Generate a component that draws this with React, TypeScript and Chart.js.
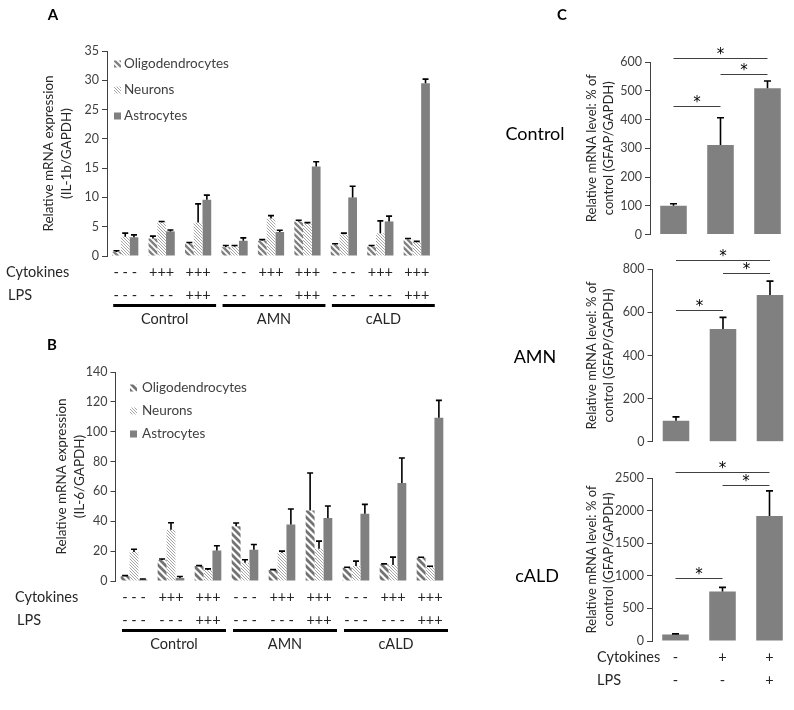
import React, { useEffect, useRef } from "react";
import { Chart, registerables } from "chart.js";

Chart.register(...registerables);

const FONT = "Lato, 'Open Sans', sans-serif";
const STAR_FONT = "'DejaVu Sans', sans-serif";
const INK = "#262626";
const AXIS = "#404040";
const BAR_GRAY = "#808080";

// ---------------- Panels A and B : shared categories ----------------
const seriesNames = ["Oligodendrocytes", "Neurons", "Astrocytes"];
const groupNames = ["Control", "AMN", "cALD"];
const cytokinesRow = ["- - -", "+++", "+++", "- - -", "+++", "+++", "- - -", "+++", "+++"];
const lpsRow = ["- - -", "- - -", "+++", "- - -", "- - -", "+++", "- - -", "- - -", "+++"];

// Panel A : IL-1b
const aTitle = ["Relative mRNA expression", "(IL-1b/GAPDH)"];
const aMax = 35;
const aStep = 5;
const aOligo = [0.7, 3.0, 2.1, 1.5, 2.6, 5.9, 1.9, 1.6, 2.8];
const aOligoErr = [0.2, 0.4, 0.2, 0.3, 0.2, 0.2, 0.2, 0.2, 0.2];
const aNeuron = [3.3, 5.7, 5.7, 1.6, 6.4, 5.5, 3.7, 3.9, 2.4];
const aNeuronErr = [0.6, 0.2, 3.2, 0.2, 0.5, 0.2, 0.2, 2.1, 0.1];
const aAstro = [3.2, 4.2, 9.6, 2.6, 4.1, 15.3, 10.0, 5.9, 29.5];
const aAstroErr = [0.4, 0.25, 0.8, 0.5, 0.3, 0.8, 1.9, 0.9, 0.7];

// Panel B : IL-6
const bTitle = ["Relative mRNA expression", "(IL-6/GAPDH)"];
const bMax = 140;
const bStep = 20;
const bOligo = [3.2, 14.0, 10.0, 36.7, 7.3, 47.3, 8.9, 11.1, 15.6];
const bOligoErr = [0.4, 0.7, 0.3, 2.2, 0.3, 25.0, 0.3, 0.4, 0.3];
const bNeuron = [19.5, 34.4, 7.3, 12.2, 18.9, 21.6, 10.0, 10.7, 9.6];
const bNeuronErr = [1.8, 4.6, 0.8, 2.0, 1.1, 5.1, 3.3, 5.3, 0.3];
const bAstro = [1.0, 2.0, 20.4, 21.0, 37.8, 42.2, 45.1, 65.6, 109.3];
const bAstroErr = [0.3, 1.0, 3.2, 3.4, 10.4, 8.0, 6.2, 16.8, 11.7];

// ---------------- Panel C : GFAP ----------------
const cTitle = ["Relative mRNA level: % of", "control (GFAP/GAPDH)"];
const cCytokines = ["-", "+", "+"];
const cLps = ["-", "-", "+"];
const cRowNames = ["Control", "AMN", "cALD"];

const c1Max = 600;
const c1Step = 100;
const c1Values = [100, 311, 509];
const c1Err = [7, 95, 25];
const c1Brackets = [
  { from: 0, to: 2, at: 614 },
  { from: 1, to: 2, at: 558 },
  { from: 0, to: 1, at: 448 },
];

const c2Max = 800;
const c2Step = 200;
const c2Values = [97, 523, 681];
const c2Err = [18, 54, 64];
const c2Brackets = [
  { from: 0, to: 2, at: 843 },
  { from: 1, to: 2, at: 781 },
  { from: 0, to: 1, at: 611 },
];

const c3Max = 2500;
const c3Step = 500;
const c3Values = [100, 760, 1918];
const c3Err = [10, 62, 385];
const c3Brackets = [
  { from: 0, to: 2, at: 2597 },
  { from: 1, to: 2, at: 2393 },
  { from: 0, to: 1, at: 960 },
];

// ---------------- helpers ----------------
type Frame = { x: number; y: number; w: number; h: number };
type Area = { l: number; t: number; r: number; b: number };

function diagPattern(period: number, width: number, color: string) {
  const c = document.createElement("canvas");
  c.width = period;
  c.height = period;
  const g = c.getContext("2d")!;
  g.fillStyle = "#ffffff";
  g.fillRect(0, 0, period, period);
  g.strokeStyle = color;
  g.lineWidth = width;
  g.beginPath();
  for (const k of [-1, 0, 1]) {
    g.moveTo(-period, -period + k * period);
    g.lineTo(2 * period, 2 * period + k * period);
  }
  g.stroke();
  return g.createPattern(c, "repeat")!;
}

function txt(
  ctx: CanvasRenderingContext2D,
  s: string,
  x: number,
  y: number,
  size: number,
  opts: { weight?: string; align?: CanvasTextAlign; color?: string; family?: string } = {}
) {
  ctx.save();
  ctx.font = `${opts.weight || "normal"} ${size}px ${opts.family || FONT}`;
  ctx.fillStyle = opts.color || INK;
  ctx.textAlign = opts.align || "left";
  ctx.textBaseline = "middle";
  ctx.fillText(s, x, y);
  ctx.restore();
}

const errorBarPlugin = {
  id: "errorBars",
  afterDatasetsDraw(chart: any, _args: any, opts: any) {
    const ctx = chart.ctx as CanvasRenderingContext2D;
    const ys = chart.scales.y;
    chart.data.datasets.forEach((ds: any, i: number) => {
      if (!ds.errors) return;
      const meta = chart.getDatasetMeta(i);
      meta.data.forEach((bar: any, j: number) => {
        const top = ys.getPixelForValue(ds.data[j] + ds.errors[j]);
        ctx.save();
        ctx.strokeStyle = "#000";
        ctx.lineWidth = opts.lineWidth || 1.5;
        ctx.beginPath();
        ctx.moveTo(bar.x, bar.y);
        ctx.lineTo(bar.x, top);
        ctx.moveTo(bar.x - opts.cap, top);
        ctx.lineTo(bar.x + opts.cap, top);
        ctx.stroke();
        ctx.restore();
      });
    });
  },
};

const ROW_LH = 23;
const ROW_PAD = 4.5;
const ROW_SIZE = 14.5;

function yAxis(frame: Frame, area: Area, max: number, step: number, title: string[], titleX: number, titleSize: number, titleLH: number) {
  return {
    min: 0,
    max,
    ticks: {
      stepSize: step,
      font: { size: 12.5 },
      color: AXIS,
      padding: 3,
      callback: (v: any) => String(v),
    },
    grid: { drawOnChartArea: false, drawTicks: true, tickLength: 5, color: AXIS },
    border: { display: true, color: AXIS, width: 1 },
    title: {
      display: true,
      text: title,
      color: INK,
      font: { size: titleSize, lineHeight: titleLH / titleSize },
      padding: { top: titleX - frame.x - titleLH / 2, bottom: 0 },
    },
    afterFit: (s: any) => {
      s.width = area.l - frame.x;
    },
  };
}

function xAxis(show: boolean, xH: number) {
  return {
    display: show,
    ticks: {
      font: { size: ROW_SIZE, lineHeight: ROW_LH / ROW_SIZE },
      color: INK,
      padding: ROW_PAD,
      autoSkip: false,
      maxRotation: 0,
      minRotation: 0,
    },
    grid: { display: false, drawTicks: false },
    border: { display: false },
    afterFit: (s: any) => {
      s.height = xH;
    },
  };
}

type GroupedSpec = {
  frame: Frame;
  area: Area;
  max: number;
  step: number;
  title: string[];
  titleX: number;
  values: number[][];
  errors: number[][];
  fills: any[];
  legend: { markerX: number; textX: number; ys: number[] };
  rowLabelX: number[];
  letter: { text: string; x: number; y: number };
};

function makeGrouped(canvas: HTMLCanvasElement, spec: GroupedSpec) {
  const { frame, area } = spec;
  const xH = 50;
  const deco = {
    id: "deco",
    afterDraw(chart: any) {
      const ctx = chart.ctx as CanvasRenderingContext2D;
      const xs = chart.scales.x;
      const ox = frame.x;
      const oy = frame.y;
      // legend
      spec.legend.ys.forEach((ly, i) => {
        ctx.save();
        ctx.fillStyle = spec.fills[i];
        ctx.fillRect(spec.legend.markerX - ox, ly - oy - 3.5, 7, 7);
        ctx.restore();
        txt(ctx, seriesNames[i], spec.legend.textX - ox, ly - oy, 13.5, { color: AXIS });
      });
      // row labels
      const row1 = xs.top + ROW_PAD + ROW_LH / 2;
      const row2 = row1 + ROW_LH;
      txt(ctx, "Cytokines", spec.rowLabelX[0] - ox, row1, ROW_SIZE);
      txt(ctx, "LPS", spec.rowLabelX[1] - ox, row2, ROW_SIZE);
      // group lines and names
      const lineY = row2 + 10.5;
      groupNames.forEach((name, g) => {
        const x1 = xs.getPixelForValue(3 * g) - 12;
        const x2 = xs.getPixelForValue(3 * g + 2) + 18;
        ctx.save();
        ctx.strokeStyle = "#000";
        ctx.lineWidth = 3;
        ctx.beginPath();
        ctx.moveTo(x1, lineY);
        ctx.lineTo(x2, lineY);
        ctx.stroke();
        ctx.restore();
        txt(ctx, name, (x1 + x2) / 2, lineY + 13.5, ROW_SIZE, { align: "center" });
      });
      txt(ctx, spec.letter.text, spec.letter.x - ox, spec.letter.y - oy, 15, { weight: "bold", align: "center", color: "#000" });
    },
  };
  return new Chart(canvas, {
    type: "bar",
    data: {
      labels: cytokinesRow.map((c, i) => [c, lpsRow[i]]),
      datasets: seriesNames.map((name, i) => ({
        label: name,
        data: spec.values[i],
        errors: spec.errors[i],
        backgroundColor: spec.fills[i],
        borderWidth: 0,
        barPercentage: 1,
        categoryPercentage: 0.72,
      })) as any,
    },
    options: {
      responsive: false,
      animation: false,
      layout: {
        padding: {
          left: 0,
          top: area.t - frame.y,
          right: frame.x + frame.w - area.r,
          bottom: frame.y + frame.h - area.b - xH,
        },
      },
      plugins: {
        legend: { display: false },
        tooltip: { enabled: false },
        errorBars: { cap: 3, lineWidth: 1.6 },
      } as any,
      scales: {
        x: xAxis(true, xH) as any,
        y: yAxis(frame, area, spec.max, spec.step, spec.title, spec.titleX, 13.5, 18) as any,
      },
    },
    plugins: [errorBarPlugin, deco],
  });
}

type SingleSpec = {
  frame: Frame;
  area: Area;
  max: number;
  step: number;
  values: number[];
  errors: number[];
  brackets: { from: number; to: number; at: number }[];
  showX: boolean;
  rowName: { text: string; x: number; y: number };
  letter?: { text: string; x: number; y: number };
};

function makeSingle(canvas: HTMLCanvasElement, spec: SingleSpec) {
  const { frame, area } = spec;
  const xH = spec.showX ? 50 : 0;
  const deco = {
    id: "deco",
    afterDraw(chart: any) {
      const ctx = chart.ctx as CanvasRenderingContext2D;
      const xs = chart.scales.x;
      const ys = chart.scales.y;
      const ox = frame.x;
      const oy = frame.y;
      spec.brackets.forEach((br) => {
        const x1 = xs.getPixelForValue(br.from);
        const x2 = xs.getPixelForValue(br.to);
        const y = Math.round(ys.getPixelForValue(br.at));
        ctx.save();
        ctx.strokeStyle = AXIS;
        ctx.lineWidth = 1;
        ctx.beginPath();
        ctx.moveTo(x1, y + 0.5);
        ctx.lineTo(x2, y + 0.5);
        ctx.stroke();
        ctx.restore();
        txt(ctx, "*", (x1 + x2) / 2, y - 2.5, 15, { align: "center", color: "#000", family: STAR_FONT });
      });
      if (spec.showX) {
        const row1 = xs.top + ROW_PAD + ROW_LH / 2;
        txt(ctx, "Cytokines", 597 - ox, row1, ROW_SIZE);
        txt(ctx, "LPS", 597 - ox, row1 + ROW_LH, ROW_SIZE);
      }
      txt(ctx, spec.rowName.text, spec.rowName.x - ox, spec.rowName.y - oy, 18, { align: "center", color: "#000" });
      if (spec.letter) {
        txt(ctx, spec.letter.text, spec.letter.x - ox, spec.letter.y - oy, 15, { weight: "bold", align: "center", color: "#000" });
      }
    },
  };
  return new Chart(canvas, {
    type: "bar",
    data: {
      labels: cCytokines.map((c, i) => [c, cLps[i]]),
      datasets: [
        {
          label: "GFAP",
          data: spec.values,
          errors: spec.errors,
          backgroundColor: BAR_GRAY,
          borderWidth: 0,
          barPercentage: 1,
          categoryPercentage: 0.565,
        } as any,
      ],
    },
    options: {
      responsive: false,
      animation: false,
      layout: {
        padding: {
          left: 0,
          top: area.t - frame.y,
          right: frame.x + frame.w - area.r,
          bottom: frame.y + frame.h - area.b - xH,
        },
      },
      plugins: {
        legend: { display: false },
        tooltip: { enabled: false },
        errorBars: { cap: 3.5, lineWidth: 1.6 },
      } as any,
      scales: {
        x: xAxis(spec.showX, xH) as any,
        y: yAxis(frame, area, spec.max, spec.step, cTitle, spec.frame.x + 112, 13, 17) as any,
      },
    },
    plugins: [errorBarPlugin, deco],
  });
}

const frameA: Frame = { x: 0, y: 0, w: 460, h: 330 };
const frameB: Frame = { x: 0, y: 330, w: 460, h: 330 };
const frameC1: Frame = { x: 480, y: 0, w: 314, h: 245 };
const frameC2: Frame = { x: 480, y: 245, w: 314, h: 210 };
const frameC3: Frame = { x: 480, y: 455, w: 314, h: 255 };

export default function App() {
  const aRef = useRef<HTMLCanvasElement>(null);
  const bRef = useRef<HTMLCanvasElement>(null);
  const c1Ref = useRef<HTMLCanvasElement>(null);
  const c2Ref = useRef<HTMLCanvasElement>(null);
  const c3Ref = useRef<HTMLCanvasElement>(null);

  useEffect(() => {
    Chart.defaults.font.family = FONT;
    Chart.defaults.color = AXIS;
    const aFills = [diagPattern(6, 2.4, "#808080"), diagPattern(3, 1, "#a6a6a6"), BAR_GRAY];
    const bFills = [diagPattern(7, 2.8, "#737373"), diagPattern(3, 1, "#a6a6a6"), BAR_GRAY];
    const charts: Chart[] = [];
    charts.push(
      makeGrouped(aRef.current!, {
        frame: frameA,
        area: { l: 107, t: 51, r: 435, b: 256 },
        max: aMax,
        step: aStep,
        title: aTitle,
        titleX: 49,
        values: [aOligo, aNeuron, aAstro],
        errors: [aOligoErr, aNeuronErr, aAstroErr],
        fills: aFills,
        legend: { markerX: 114, textX: 124, ys: [64, 90, 116] },
        rowLabelX: [6, 8],
        letter: { text: "A", x: 53, y: 15 },
      })
    );
    charts.push(
      makeGrouped(bRef.current!, {
        frame: frameB,
        area: { l: 115.5, t: 372, r: 448.5, b: 581 },
        max: bMax,
        step: bStep,
        title: bTitle,
        titleX: 62,
        values: [bOligo, bNeuron, bAstro],
        errors: [bOligoErr, bNeuronErr, bAstroErr],
        fills: bFills,
        legend: { markerX: 130, textX: 142, ys: [388, 411, 434] },
        rowLabelX: [15, 17],
        letter: { text: "B", x: 52, y: 345 },
      })
    );
    charts.push(
      makeSingle(c1Ref.current!, {
        frame: frameC1,
        area: { l: 650, t: 62, r: 791, b: 235 },
        max: c1Max,
        step: c1Step,
        values: c1Values,
        errors: c1Err,
        brackets: c1Brackets,
        showX: false,
        rowName: { text: cRowNames[0], x: 535, y: 134 },
        letter: { text: "C", x: 562, y: 15 },
      })
    );
    charts.push(
      makeSingle(c2Ref.current!, {
        frame: frameC2,
        area: { l: 652.5, t: 269.3, r: 793.5, b: 441.7 },
        max: c2Max,
        step: c2Step,
        values: c2Values,
        errors: c2Err,
        brackets: c2Brackets,
        showX: false,
        rowName: { text: cRowNames[1], x: 535, y: 357 },
      })
    );
    charts.push(
      makeSingle(c3Ref.current!, {
        frame: frameC3,
        area: { l: 652, t: 478, r: 793, b: 641 },
        max: c3Max,
        step: c3Step,
        values: c3Values,
        errors: c3Err,
        brackets: c3Brackets,
        showX: true,
        rowName: { text: cRowNames[2], x: 537, y: 576 },
      })
    );
    return () => charts.forEach((c) => c.destroy());
  }, []);

  const pos = (f: Frame): React.CSSProperties => ({ position: "absolute", left: f.x, top: f.y, width: f.w, height: f.h });

  return (
    <div style={{ position: "absolute", left: 0, top: 0, width: 794, height: 710, background: "#ffffff", overflow: "hidden" }}>
      <canvas ref={aRef} width={frameA.w} height={frameA.h} style={pos(frameA)} />
      <canvas ref={bRef} width={frameB.w} height={frameB.h} style={pos(frameB)} />
      <canvas ref={c1Ref} width={frameC1.w} height={frameC1.h} style={pos(frameC1)} />
      <canvas ref={c2Ref} width={frameC2.w} height={frameC2.h} style={pos(frameC2)} />
      <canvas ref={c3Ref} width={frameC3.w} height={frameC3.h} style={pos(frameC3)} />
    </div>
  );
}
